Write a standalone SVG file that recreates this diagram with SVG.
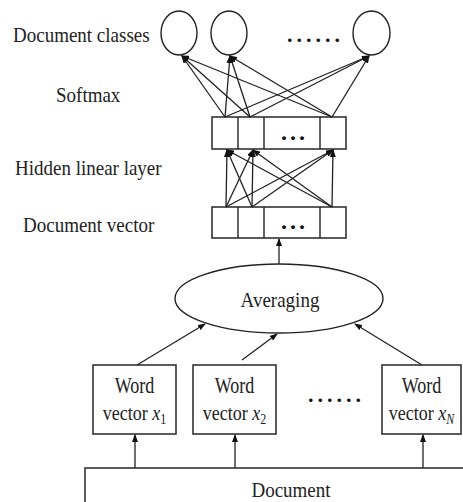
<svg xmlns="http://www.w3.org/2000/svg" width="463" height="502" viewBox="0 0 463 502">
<style>
.s{fill:none;stroke:#222;stroke-width:1.4}
.b{fill:#fff;stroke:#333;stroke-width:1.6}
.t{font-family:"Liberation Serif","Times New Roman",serif;font-size:19px;fill:#222}
.w{font-family:"Liberation Serif","Times New Roman",serif;font-size:18px;fill:#222;text-anchor:middle}
.d{font-family:"Liberation Serif","Times New Roman",serif;font-weight:bold;fill:#111}
.c line{stroke:#222;stroke-width:1.3;marker-end:url(#ah)}
</style>
<defs>
<marker id="ah" markerUnits="userSpaceOnUse" markerWidth="8" markerHeight="6" refX="7" refY="3" orient="auto">
<path d="M0,0 L8,3 L0,6 z" fill="#111"/>
</marker>
</defs>
<rect width="463" height="502" fill="#fff"/>
<g id="labels">
<text class="t" transform="translate(13,42) scale(1,1.15)">Document classes</text>
<text class="t" transform="translate(56,102) scale(1,1.15)">Softmax</text>
<text class="t" transform="translate(15,175) scale(1,1.15)">Hidden linear layer</text>
<text class="t" transform="translate(23,232) scale(1,1.15)">Document vector</text>
</g>
<g id="class1"><ellipse class="s" cx="179" cy="33" rx="18" ry="22"/></g>
<g id="class2"><ellipse class="s" cx="229" cy="33" rx="18" ry="22"/></g>
<g id="class3"><ellipse class="s" cx="371.5" cy="33" rx="18.5" ry="22"/></g>
<text class="d" x="287" y="42" font-size="22" letter-spacing="4">......</text>
<g id="hidden">
<rect class="b" x="212" y="117" width="134" height="32"/>
<path class="s" d="M238,117V149M264,117V149M320,117V149"/>
<text class="d" x="281" y="140" font-size="24" letter-spacing="3">...</text>
</g>
<g id="docvec">
<rect class="b" x="212" y="207" width="134" height="31"/>
<path class="s" d="M238,207V238M264,207V238M320,207V238"/>
<text class="d" x="281" y="229" font-size="24" letter-spacing="3">...</text>
</g>
<g id="averaging">
<ellipse class="s" cx="279" cy="298.5" rx="104" ry="34.5"/>
<text class="t" text-anchor="middle" transform="translate(280,306.5) scale(1,1.15)">Averaging</text>
</g>
<g id="word1">
<rect class="b" x="93" y="365" width="83" height="69"/>
<text class="w" transform="translate(134.5,393) scale(1,1.28)">Word</text>
<text class="w" transform="translate(134.5,420) scale(1,1.22)">vector <tspan font-style="italic">x</tspan><tspan font-size="12" dy="3">1</tspan></text>
</g>
<g id="word2">
<rect class="b" x="193" y="365" width="83" height="69"/>
<text class="w" transform="translate(234.5,393) scale(1,1.28)">Word</text>
<text class="w" transform="translate(234.5,420) scale(1,1.22)">vector <tspan font-style="italic">x</tspan><tspan font-size="12" dy="3">2</tspan></text>
</g>
<text class="d" x="308" y="402" font-size="22" letter-spacing="4">......</text>
<g id="wordN">
<rect class="b" x="382" y="365" width="79" height="69"/>
<text class="w" transform="translate(421.5,393) scale(1,1.28)">Word</text>
<text class="w" transform="translate(421.5,420) scale(1,1.22)">vector <tspan font-style="italic">x</tspan><tspan font-size="12" font-style="italic" dy="3">N</tspan></text>
</g>
<g id="document">
<rect class="b" x="85" y="468" width="420" height="100"/>
<text class="t" text-anchor="middle" transform="translate(291,497) scale(1,1.15)">Document</text>
</g>
<g id="connectors" class="c">
<line x1="225" y1="117" x2="182" y2="56"/>
<line x1="250" y1="117" x2="182" y2="56"/>
<line x1="332" y1="117" x2="182" y2="56"/>
<line x1="225" y1="117" x2="230" y2="56"/>
<line x1="250" y1="117" x2="230" y2="56"/>
<line x1="332" y1="117" x2="230" y2="56"/>
<line x1="225" y1="117" x2="369" y2="56"/>
<line x1="250" y1="117" x2="369" y2="56"/>
<line x1="332" y1="117" x2="369" y2="56"/>
<line x1="226" y1="207" x2="227" y2="150"/>
<line x1="252" y1="207" x2="227" y2="150"/>
<line x1="332" y1="207" x2="227" y2="150"/>
<line x1="226" y1="207" x2="253" y2="150"/>
<line x1="252" y1="207" x2="253" y2="150"/>
<line x1="332" y1="207" x2="253" y2="150"/>
<line x1="226" y1="207" x2="333" y2="150"/>
<line x1="252" y1="207" x2="333" y2="150"/>
<line x1="332" y1="207" x2="333" y2="150"/>
<line x1="279" y1="264" x2="279" y2="239"/>
<line x1="137" y1="365" x2="205" y2="324"/>
<line x1="242" y1="360" x2="277" y2="334"/>
<line x1="422" y1="365" x2="355" y2="324"/>
<line x1="135" y1="468" x2="135" y2="435"/>
<line x1="235" y1="468" x2="235" y2="435"/>
<line x1="423" y1="468" x2="423" y2="435"/>
</g>
</svg>
